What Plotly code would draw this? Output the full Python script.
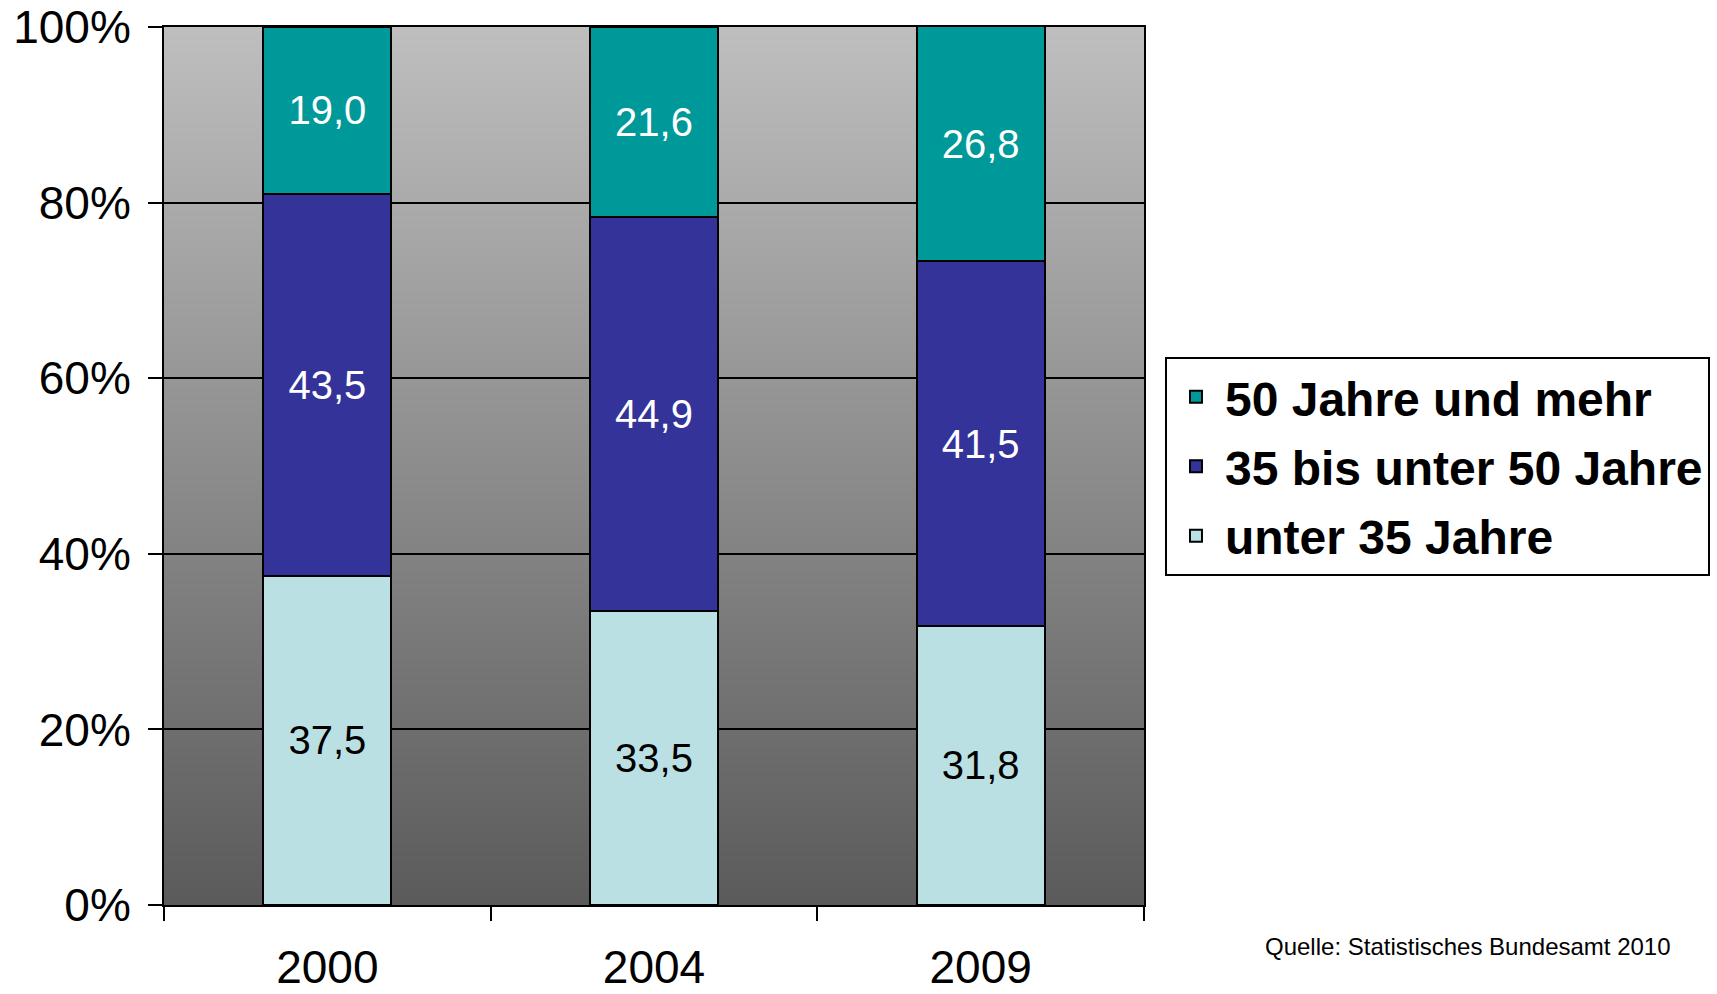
import plotly.graph_objects as go

years = ["2000", "2004", "2009"]
unter35 = [37.5, 33.5, 31.8]
bis50 = [43.5, 44.9, 41.5]
ab50 = [19.0, 21.6, 26.8]

series_names = ["unter 35 Jahre", "35 bis unter 50 Jahre", "50 Jahre und mehr"]
series_values = [unter35, bis50, ab50]
series_colors = ["#BBE0E3", "#333399", "#009999"]
label_colors = ["black", "white", "white"]
legend_rank = [3, 2, 1]

y_ticks = [0, 20, 40, 60, 80, 100]
y_ticktext = [f"{t}%" for t in y_ticks]

FONT = "Liberation Sans, Arial, sans-serif"


def fmt(v):
    return f"{v:.1f}".replace(".", ",")


fig = go.Figure()
for name, vals, col, lc, rk in zip(series_names, series_values, series_colors, label_colors, legend_rank):
    fig.add_trace(go.Bar(
        x=years, y=vals, name=name, legendgroup=name, legendrank=rk,
        marker=dict(color=col, line=dict(color="black", width=2)),
        text=[fmt(v) for v in vals], textposition="inside",
        insidetextanchor="middle",
        textfont=dict(family=FONT, size=40, color=lc),
        hoverinfo="skip",
    ))

# vertical gradient background (light gray top -> dark gray bottom)
n_bands = 100
top_c, bot_c = 190, 91
shapes = []
for i in range(n_bands):
    f = (i + 0.5) / n_bands
    g = int(round(bot_c + (top_c - bot_c) * f))
    shapes.append(dict(
        type="rect", xref="x domain", yref="y domain",
        x0=0, x1=1, y0=i / n_bands, y1=(i + 1) / n_bands + 0.002,
        fillcolor=f"rgb({g},{g},{g})", line=dict(width=0), layer="below",
    ))

fig.update_layout(
    width=1717, height=994,
    margin=dict(l=164, r=573, t=27, b=89, autoexpand=False),
    paper_bgcolor="white", plot_bgcolor="#999999",
    barmode="stack", bargap=0.608,
    shapes=shapes,
    font=dict(family=FONT, color="black"),
    showlegend=True,
    legend=dict(
        x=1.0214, y=0.624, xanchor="left", yanchor="top",
        bordercolor="black", borderwidth=2, bgcolor="white",
        font=dict(family=FONT, size=48, color="black", weight="bold"),
        traceorder="grouped", tracegroupgap=4, itemwidth=48,
    ),
    annotations=[dict(
        text="Quelle: Statistisches Bundesamt 2010",
        xref="paper", yref="paper", x=1.5398, y=-0.0467,
        xanchor="right", yanchor="middle", showarrow=False,
        font=dict(family=FONT, size=24, color="black"),
    )],
)

fig.update_xaxes(
    type="category", tickson="boundaries", automargin=False,
    ticks="outside", ticklen=14, tickwidth=2, tickcolor="black",
    showline=True, linecolor="black", linewidth=2, mirror=True,
    showgrid=False,
    tickfont=dict(family=FONT, size=46, color="black"),
    ticklabelstandoff=21,
)
fig.update_yaxes(
    range=[0, 100], tickvals=y_ticks, ticktext=y_ticktext, automargin=False,
    ticks="outside", ticklen=14, tickwidth=2, tickcolor="black",
    showline=True, linecolor="black", linewidth=2, mirror=True,
    showgrid=True, gridcolor="black", gridwidth=2,
    zeroline=False,
    tickfont=dict(family=FONT, size=46, color="black"),
    ticklabelstandoff=8,
)

fig.write_html("out.html")
